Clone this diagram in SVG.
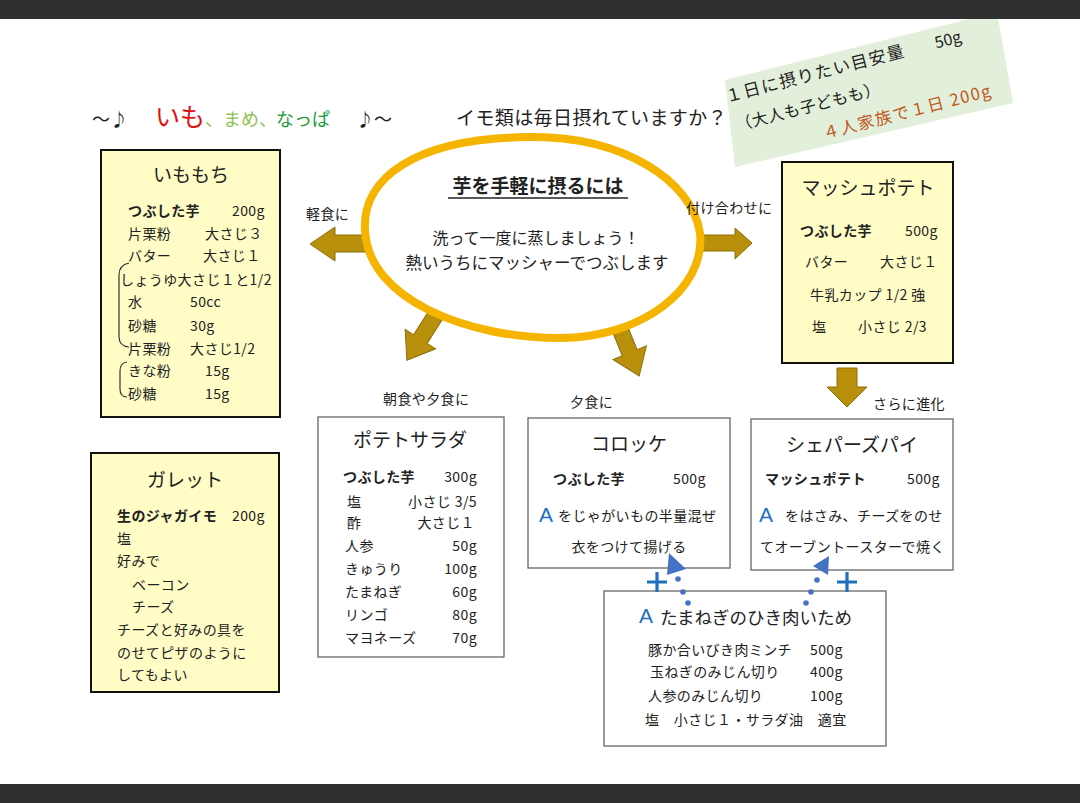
<svg xmlns="http://www.w3.org/2000/svg" width="1080" height="803" viewBox="0 0 1080 803">
<style>
text{font-family:'Noto Sans CJK JP','Noto Sans CJK SC',sans-serif;fill:#222}
.s14{font-size:14px;letter-spacing:0.4px}
.ttl{font-size:19px;text-anchor:middle}
.bd{font-weight:bold}
.end{text-anchor:end}
.mid{text-anchor:middle}
.ybox{fill:#fffcc6;stroke:#111;stroke-width:2}
.wbox{fill:#fff;stroke:#666;stroke-width:1.3}
.arr{fill:#b8900c;stroke:#8d6e08;stroke-width:1}
.A{font-family:'Liberation Sans',sans-serif;font-size:21px;fill:#1f6fc0}
.dot{fill:#4472c4}
.plus{stroke:#1f6fc0;stroke-width:3.2;fill:none}
</style>
<rect x="0" y="0" width="1080" height="803" fill="#fff"/>

<g id="note">
<polygon points="725,80 997,12 1013,103 735,167" fill="#e2efda"/>
<g transform="rotate(-14.5 733 101)">
<text x="727" y="101" style="font-size:17px;letter-spacing:1.5px">１日に摂りたい目安量</text>
<text x="943" y="101" style="font-size:16px">50g</text>
<text x="730" y="131" style="font-size:16px;letter-spacing:0.5px">（大人も子どもも）</text>
<text x="812" y="161" style="font-size:16.5px;letter-spacing:1.5px;fill:#c0561a">４人家族で１日 200g</text>
</g>
</g>

<rect x="0" y="0" width="1080" height="19" fill="#303030"/>
<rect x="0" y="784" width="1080" height="19" fill="#303030"/>

<g id="title">
<text y="126" style="font-size:18px"><tspan x="92">～♪</tspan><tspan x="155" style="font-size:25px;fill:#e01010">いも</tspan><tspan x="205" style="fill:#8fc054">、まめ、</tspan><tspan x="276" style="fill:#219a33">なっぱ</tspan><tspan x="356">♪～</tspan></text>
<text x="456" y="125" style="font-size:19px;letter-spacing:0.4px">イモ類は毎日摂れていますか？</text>
</g>

<g id="arrows">
<polygon class="arr" points="366,235 335,235 335,227 310,244 335,261 335,252 366,252"/>
<polygon class="arr" points="695,235 735,235 735,228 752,243 735,259 735,251 695,251"/>
<polygon class="arr" transform="translate(437,313) rotate(122.5)" points="0,-8 31,-8 31,-18 56,0 31,18 31,8 0,8"/>
<polygon class="arr" transform="translate(618,324) rotate(67.8)" points="0,-8 31,-8 31,-18 56,0 31,18 31,8 0,8"/>
<polygon class="arr" points="837,368 857,368 857,387 867,387 847,407 827,387 837,387"/>
</g>

<g id="center">
<path d="M365,230 C362,178 415,138 530,137 C622,136 692,180 700,233 C706,290 640,338 560,338 C468,338 368,300 365,230 Z" fill="#fff" stroke="#f5b400" stroke-width="8"/>
<text x="538" y="193" class="mid bd" style="font-size:19px">芋を手軽に摂るには</text>
<line x1="448" y1="198" x2="628" y2="198" stroke="#222" stroke-width="1.5"/>
<text x="536" y="244" class="mid" style="font-size:16px">洗って一度に蒸しましょう！</text>
<text x="537" y="269" class="mid" style="font-size:16.5px">熱いうちにマッシャーでつぶします</text>
</g>

<g id="imomochi">
<rect class="ybox" x="101" y="150" width="179" height="267"/>
<text x="191" y="182" class="ttl">いももち</text>
<text x="128" y="216" class="s14 bd">つぶした芋</text><text x="232" y="216" class="s14">200g</text>
<text x="128" y="239" class="s14">片栗粉</text><text x="205" y="239" class="s14">大さじ３</text>
<text x="128" y="261" class="s14">バター</text><text x="203" y="261" class="s14">大さじ１</text>
<text x="120" y="285" class="s14">しょうゆ大さじ１と1/2</text>
<text x="128" y="307" class="s14">水</text><text x="190" y="307" class="s14">50cc</text>
<text x="128" y="331" class="s14">砂糖</text><text x="190" y="331" class="s14">30g</text>
<text x="128" y="354" class="s14">片栗粉</text><text x="190" y="354" class="s14">大さじ1/2</text>
<text x="128" y="376" class="s14">きな粉</text><text x="205" y="376" class="s14">15g</text>
<text x="128" y="399" class="s14">砂糖</text><text x="205" y="399" class="s14">15g</text>
<path d="M129,263 Q119,265 119,275 L119,337 Q119,346 129,347" fill="none" stroke="#333" stroke-width="1.2"/>
<path d="M127,362 Q120,363 120,371 L120,389 Q120,397 127,397" fill="none" stroke="#333" stroke-width="1.2"/>
</g>

<g id="galette">
<rect class="ybox" x="91" y="453" width="188" height="239"/>
<text x="185" y="487" class="ttl">ガレット</text>
<text x="117" y="521" class="s14 bd">生のジャガイモ</text><text x="232" y="521" class="s14">200g</text>
<text x="117" y="544" class="s14">塩</text>
<text x="117" y="566" class="s14">好みで</text>
<text x="132" y="590" class="s14">ベーコン</text>
<text x="132" y="612" class="s14">チーズ</text>
<text x="117" y="635" class="s14">チーズと好みの具を</text>
<text x="117" y="658" class="s14">のせてピザのように</text>
<text x="117" y="680" class="s14">してもよい</text>
</g>

<g id="mashed">
<rect class="ybox" x="782" y="162" width="171" height="201"/>
<text x="868" y="195" class="ttl">マッシュポテト</text>
<text x="800" y="236" class="s14 bd">つぶした芋</text><text x="905" y="236" class="s14">500g</text>
<text x="805" y="267" class="s14">バター</text><text x="880" y="267" class="s14">大さじ１</text>
<text x="810" y="300" class="s14">牛乳カップ 1/2 強</text>
<text x="812" y="332" class="s14">塩</text><text x="858" y="332" class="s14">小さじ 2/3</text>
</g>

<g id="salad">
<rect class="wbox" x="318" y="417" width="186" height="240"/>
<text x="410" y="447" class="ttl">ポテトサラダ</text>
<text x="343" y="482" class="s14 bd">つぶした芋</text><text x="477" y="482" class="s14 end">300g</text>
<text x="347" y="507" class="s14">塩</text><text x="477" y="507" class="s14 end">小さじ 3/5</text>
<text x="347" y="528" class="s14">酢</text><text x="475" y="528" class="s14 end">大さじ１</text>
<text x="345" y="551" class="s14">人参</text><text x="477" y="551" class="s14 end">50g</text>
<text x="345" y="574" class="s14">きゅうり</text><text x="477" y="574" class="s14 end">100g</text>
<text x="345" y="597" class="s14">たまねぎ</text><text x="477" y="597" class="s14 end">60g</text>
<text x="345" y="620" class="s14">リンゴ</text><text x="477" y="620" class="s14 end">80g</text>
<text x="345" y="643" class="s14">マヨネーズ</text><text x="477" y="643" class="s14 end">70g</text>
</g>

<g id="croquette">
<rect class="wbox" x="528" y="418" width="202" height="150"/>
<text x="629" y="451" class="ttl">コロッケ</text>
<text x="553" y="484" class="s14 bd">つぶした芋</text><text x="673" y="484" class="s14">500g</text>
<text x="539" y="522" class="A">A</text>
<text x="558" y="521" class="s14">をじゃがいもの半量混ぜ</text>
<text x="629" y="552" class="s14 mid">衣をつけて揚げる</text>
</g>

<g id="shepherds">
<rect class="wbox" x="751" y="419" width="202" height="151"/>
<text x="852" y="452" class="ttl">シェパーズパイ</text>
<text x="765" y="484" class="s14 bd">マッシュポテト</text><text x="907" y="484" class="s14">500g</text>
<text x="759" y="522" class="A">A</text>
<text x="785" y="521" class="s14">をはさみ、チーズをのせ</text>
<text x="760" y="552" class="s14">てオーブントースターで焼く</text>
</g>

<g id="sauceA">
<rect class="wbox" x="604" y="591" width="282" height="155"/>
<text x="639" y="623" class="A">A</text>
<text x="660" y="624" style="font-size:17.5px">たまねぎのひき肉いため</text>
<text x="648" y="655" class="s14">豚か合いびき肉ミンチ</text><text x="810" y="655" class="s14">500g</text>
<text x="650" y="677" class="s14">玉ねぎのみじん切り</text><text x="810" y="677" class="s14">400g</text>
<text x="648" y="701" class="s14">人参のみじん切り</text><text x="810" y="701" class="s14">100g</text>
<text x="645" y="725" class="s14">塩　小さじ１・サラダ油　適宜</text>
</g>

<g id="connectors">
<circle class="dot" cx="678" cy="579" r="2.8"/>
<circle class="dot" cx="683" cy="592" r="2.8"/>
<circle class="dot" cx="688" cy="603" r="2.8"/>
<polygon fill="#4472c4" points="669,553 686,569 667,575"/>
<circle class="dot" cx="817" cy="580" r="2.8"/>
<circle class="dot" cx="811" cy="592" r="2.8"/>
<circle class="dot" cx="806" cy="603" r="2.8"/>
<polygon fill="#4472c4" points="813,566 829,556 828,575"/>
<path class="plus" d="M647,582 H667 M657,572 V592 M837,582 H857 M847,572 V592"/>
<text x="306" y="219" class="s14">軽食に</text>
<text x="686" y="213" class="s14">付け合わせに</text>
<text x="383" y="404" class="s14">朝食や夕食に</text>
<text x="570" y="407" class="s14">夕食に</text>
<text x="873" y="409" class="s14">さらに進化</text>
</g>
</svg>
